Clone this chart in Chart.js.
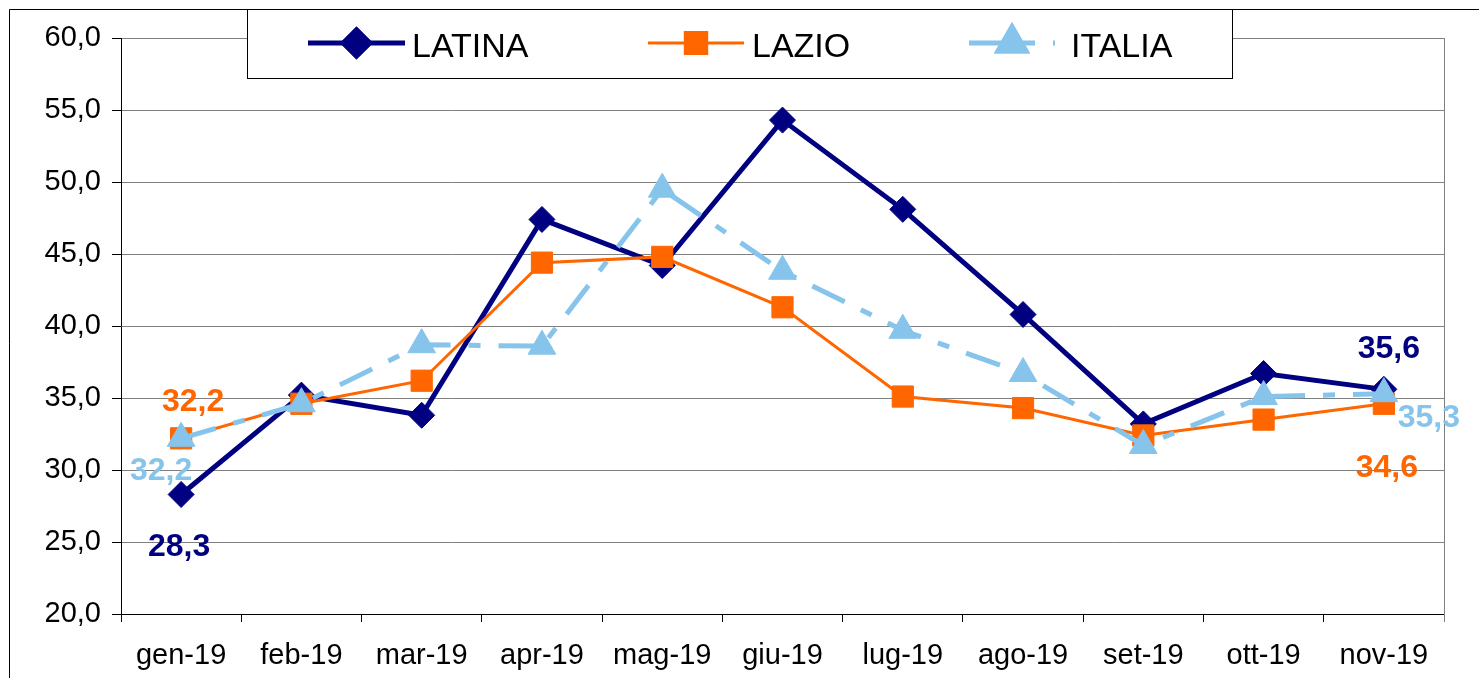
<!DOCTYPE html>
<html>
<head>
<meta charset="utf-8">
<script src="https://cdn.jsdelivr.net/npm/chart.js"></script>
<style>
  html, body { margin: 0; padding: 0; background: #fff; }
  #wrap { width: 1479px; height: 678px; }
</style>
</head>
<body>
<div id="wrap"><canvas id="chart" width="1479" height="678"></canvas></div>
<script>
const months = ["gen-19", "feb-19", "mar-19", "apr-19", "mag-19", "giu-19", "lug-19", "ago-19", "set-19", "ott-19", "nov-19"];
const latina = [28.3, 35.2, 33.8, 47.4, 44.2, 54.3, 48.1, 40.8, 33.2, 36.7, 35.6];
const lazio = [32.2, 34.6, 36.2, 44.4, 44.8, 41.3, 35.1, 34.3, 32.4, 33.5, 34.6];
const italia = [32.2, 34.6, 38.7, 38.6, 49.5, 43.8, 39.7, 36.7, 31.7, 35.1, 35.3];
const yTicks = [20, 25, 30, 35, 40, 45, 50, 55, 60];

const FONT = "'Liberation Sans', Arial, sans-serif";
const NAVY = "#000080";
const ORANGE = "#FF6600";
const SKY = "#87C4EC";
const DASH = [36, 18, 12, 18];

const fmt = v => v.toFixed(1).replace(".", ",");

// labels on first and last point of each series (offsets in px from the point)
const labelOffsets = [
    { first: [-2, 53], last: [5, -40] },   // LATINA
    { first: [12, -36], last: [3, 64] },   // LAZIO
    { first: [-20, 33], last: [45, 24] }   // ITALIA
];

const framePlugin = {
    id: "frame",
    afterDraw(chart) {
        const ctx = chart.ctx;
        const a = chart.chartArea;
        ctx.save();
        // outer border
        ctx.strokeStyle = "#000";
        ctx.lineWidth = 1;
        ctx.beginPath();
        ctx.moveTo(9.5, 678);
        ctx.lineTo(9.5, 9.5);
        ctx.lineTo(1479, 9.5);
        ctx.stroke();
        // right edge of plot
        ctx.strokeStyle = "#808080";
        ctx.beginPath();
        ctx.moveTo(Math.round(a.right) + 0.5, a.top);
        ctx.lineTo(Math.round(a.right) + 0.5, a.bottom + 8);
        ctx.stroke();

        // value labels
        chart.data.datasets.forEach((ds, i) => {
            const meta = chart.getDatasetMeta(i);
            const pts = meta.data;
            const off = labelOffsets[i];
            ctx.fillStyle = ds.borderColor;
            ctx.font = "bold 32px " + FONT;
            ctx.textAlign = "center";
            ctx.textBaseline = "middle";
            const p0 = pts[0], pN = pts[pts.length - 1];
            ctx.fillText(fmt(ds.data[0]), p0.x + off.first[0], p0.y + off.first[1]);
            ctx.fillText(fmt(ds.data[ds.data.length - 1]), pN.x + off.last[0], pN.y + off.last[1]);
        });

        // legend box
        const lx = 247.5, ly = 9.5, lw = 985, lh = 69;
        ctx.fillStyle = "#fff";
        ctx.fillRect(lx, ly, lw, lh);
        ctx.strokeStyle = "#000";
        ctx.lineWidth = 1;
        ctx.strokeRect(lx, ly, lw, lh);
        const cy = 43;
        const items = [
            { ds: 0, x1: 308, x2: 405, tx: 412 },
            { ds: 1, x1: 648, x2: 744, tx: 752 },
            { ds: 2, x1: 969, x2: 1055, tx: 1071 }
        ];
        items.forEach(it => {
            const ds = chart.data.datasets[it.ds];
            ctx.strokeStyle = ds.borderColor;
            ctx.lineWidth = ds.borderWidth;
            ctx.lineCap = "butt";
            ctx.setLineDash(ds.borderDash || []);
            ctx.beginPath();
            ctx.moveTo(it.x1, cy);
            ctx.lineTo(it.x2, cy);
            ctx.stroke();
            ctx.setLineDash([]);
            Chart.helpers.drawPoint(ctx, {
                pointStyle: ds.pointStyle,
                radius: ds.pointRadius,
                rotation: 0,
                borderWidth: 1
            }, (it.x1 + it.x2) / 2, cy);
            ctx.fillStyle = ds.pointBackgroundColor;
            ctx.strokeStyle = ds.pointBorderColor;
            ctx.fill();
            ctx.stroke();
            ctx.fillStyle = "#000";
            ctx.font = "34px " + FONT;
            ctx.textAlign = "left";
            ctx.textBaseline = "alphabetic";
            ctx.fillText(chart.data.datasets[it.ds].label, it.tx, 57);
        });
        ctx.restore();
    }
};

function lineSet(label, data, color, width, style, radius, order, dash) {
    return {
        label: label,
        data: data,
        borderColor: color,
        backgroundColor: color,
        borderWidth: width,
        borderDash: dash || [],
        pointStyle: style,
        pointRadius: radius,
        pointHoverRadius: radius,
        pointBackgroundColor: color,
        pointBorderColor: color,
        pointBorderWidth: 1,
        tension: 0,
        fill: false,
        order: order
    };
}

new Chart(document.getElementById("chart"), {
    type: "line",
    data: {
        labels: months,
        datasets: [
            lineSet("LATINA", latina, NAVY, 5, "rectRot", 13, 2),
            lineSet("LAZIO", lazio, ORANGE, 3, "rect", 15, 1),
            lineSet("ITALIA", italia, SKY, 5, "triangle", 16, 0, DASH)
        ]
    },
    options: {
        responsive: false,
        animation: false,
        layout: { padding: { top: 38, right: 35, left: 0, bottom: 0 } },
        plugins: {
            legend: { display: false },
            tooltip: { enabled: false }
        },
        scales: {
            x: {
                offset: true,
                grid: {
                    offset: true,
                    drawOnChartArea: false,
                    tickLength: 8,
                    tickColor: "#000"
                },
                border: { color: "#000", width: 1 },
                ticks: {
                    color: "#000",
                    font: { family: FONT, size: 29 },
                    padding: 17,
                    maxRotation: 0,
                    autoSkip: false
                },
                afterFit(scale) { scale.height = 64; }
            },
            y: {
                min: 20,
                max: 60,
                afterBuildTicks(scale) { scale.ticks = yTicks.map(v => ({ value: v })); },
                grid: {
                    color: "#808080",
                    tickColor: "#000",
                    tickLength: 9
                },
                border: { color: "#000", width: 1 },
                ticks: {
                    color: "#000",
                    font: { family: FONT, size: 29 },
                    padding: 11,
                    callback: v => fmt(v)
                },
                afterFit(scale) { scale.width = 121; }
            }
        }
    },
    plugins: [framePlugin]
});
</script>
</body>
</html>
